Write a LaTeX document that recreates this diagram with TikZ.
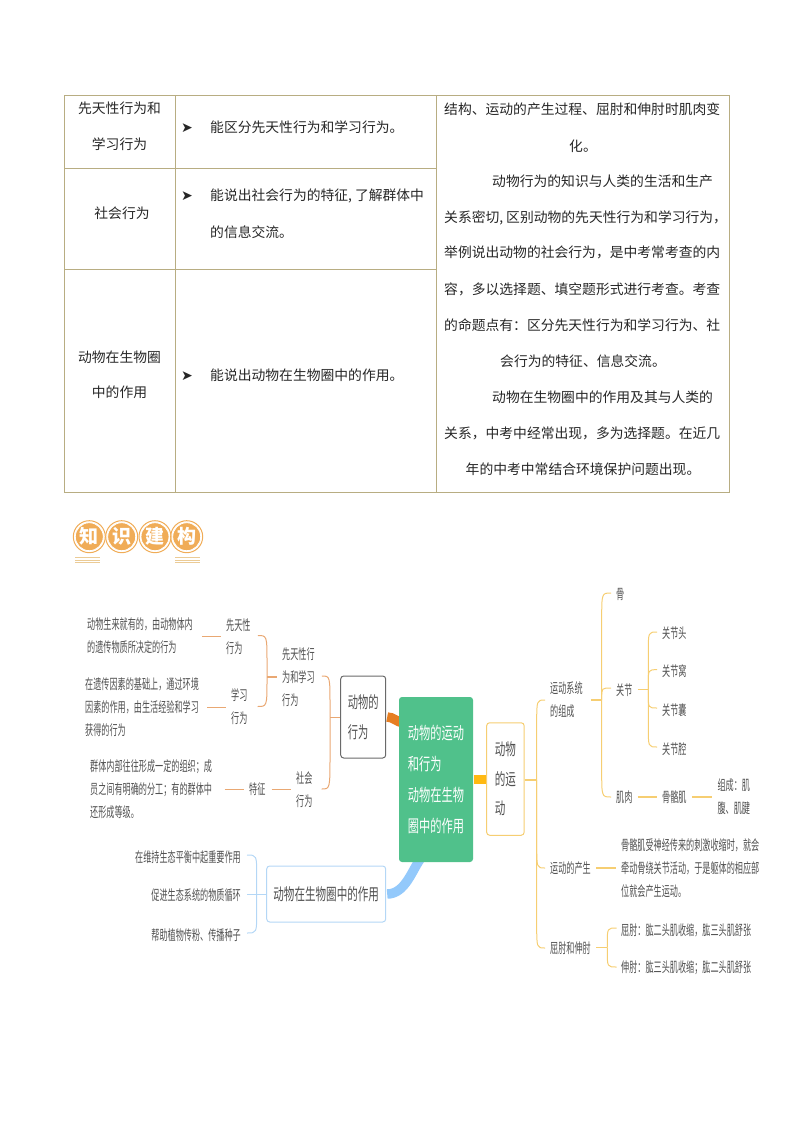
\documentclass[tikz,border=0pt]{standalone}
\usepackage{fontspec}
\usepackage{graphicx}
\setmainfont{Noto Sans CJK SC}
\newfontfamily\symf{DejaVu Sans}
\usetikzlibrary{calc,backgrounds}
\definecolor{tline}{HTML}{B8AD82}
\definecolor{ink}{HTML}{262626}
\definecolor{mind}{HTML}{505050}
\definecolor{cOr}{HTML}{E9A873}
\definecolor{cYe}{HTML}{F6CE72}
\definecolor{cBl}{HTML}{B4D7F6}
\definecolor{gOr}{HTML}{E67E22}
\definecolor{gYe}{HTML}{FFB911}
\definecolor{gBl}{HTML}{93C9FB}
\definecolor{gGr}{HTML}{50C18B}
\definecolor{bann}{HTML}{F0AC57}
\definecolor{bannl}{HTML}{EBCB96}
\newcommand\nar[2][.58]{\scalebox{#1}[1]{#2}}
\newcommand\brk[4]{\draw[#1] (#2) -- ($(#2|-#3)+(0,#4)$) .. controls (#2|-#3) .. (#3);}
\newcommand\zc{\symbol{"FF0C}}
\newcommand\zf{\symbol{"FF1B}}
\newcommand\zm{\symbol{"FF1A}}
\tikzset{
  grid/.style={draw=tline,line width=.9pt},
  cell/.style={inner sep=0,font=\fontsize{13.8}{16}\selectfont,text=ink,text height=11.8pt,text depth=3pt},
  celll/.style={cell,anchor=west},
  tick/.style={inner sep=0,font=\symf\fontsize{14}{16}\selectfont,text=ink},
  disc/.style={circle,fill=bann,draw=white,line width=.8pt,minimum size=28pt,inner sep=0,text=white,font=\fontsize{19}{21}\selectfont\bfseries},
  ring/.style={circle,draw=bann,line width=1pt,minimum size=32pt,inner sep=0},
  under/.style={draw=bannl,line width=.8pt},
  mt/.style={inner sep=0,anchor=west,align=left,text=mind,font=\fontsize{14}{22.9}\selectfont},
  mr/.style={mt,anchor=east,align=right},
  cO/.style={draw=cOr,line width=1pt},
  cY/.style={draw=cYe,line width=1pt},
  cB/.style={draw=cBl,line width=1pt},
  sO/.style={draw=cOr,line width=1.8pt},
  sY/.style={draw=cYe,line width=1.8pt},
  sB/.style={draw=cBl,line width=1.3pt},
  topic/.style={rounded corners=3pt,inner sep=0,align=left,text=mind,line width=1pt},
  fat/.style={line width=9.5pt},
}
\begin{document}
\begin{tikzpicture}[x=1pt,y=-1pt]
\useasboundingbox (0,0) rectangle (794,1123);
% ---------- table ----------
\draw[grid] (64.5,95.5) rectangle (729.5,492);
\draw[grid] (175,95.5) -- (175,492);
\draw[grid] (436,95.5) -- (436,492);
\draw[grid] (64.5,168.5) -- (436,168.5);
\draw[grid] (64.5,269) -- (436,269);
\node[cell] (c1a) at (119.5,109) {先天性行为和};
\node[cell] (c1b) at (119.5,145) {学习行为};
\node[cell] (c2a) at (122,214) {社会行为};
\node[cell] (c3a) at (119.5,358) {动物在生物圈};
\node[cell] (c3b) at (119.5,393) {中的作用};
\node[tick] (k1) at (187,128) {➤};
\node[tick] (k2) at (187,196) {➤};
\node[tick] (k3) at (187,376) {➤};
\node[celll] (d1) at (210,128) {能区分先天性行为和学习行为。};
\node[celll] (d2) at (210,196) {能说出社会行为的特征,\hspace{3pt}了解群体中};
\node[celll] (d2b) at (210,233) {的信息交流。};
\node[celll] (d3) at (210,376) {能说出动物在生物圈中的作用。};
\node[celll] (r1) at (444,110) {结构、运动的产生过程、屈肘和伸肘时肌肉变};
\node[cell] (r2) at (583,147) {化。};
\node[celll] (r3) at (492,182) {动物行为的知识与人类的生活和生产};
\node[celll] (r4) at (444,218) {关系密切,\hspace{3pt}区别动物的先天性行为和学习行为\zc};
\node[celll] (r5) at (444,253) {举例说出动物的社会行为\zc 是中考常考查的内};
\node[celll] (r6) at (444,290) {容\zc 多以选择题、填空题形式进行考查。考查};
\node[celll] (r7) at (444,326) {的命题点有\zm 区分先天性行为和学习行为、社};
\node[cell] (r8) at (583,362) {会行为的特征、信息交流。};
\node[celll] (r9) at (492,398) {动物在生物圈中的作用及其与人类的};
\node[celll] (r10) at (444,434) {关系\zc 中考中经常出现\zc 多为选择题。在近几};
\node[cell] (r11) at (583,470) {年的中考中常结合环境保护问题出现。};
% ---------- banner ----------
\node[ring] (b1o) at (89.3,536.7) {};
\node[ring] (b2o) at (121.7,536.7) {};
\node[ring] (b3o) at (155,536.7) {};
\node[ring] (b4o) at (186.7,536.7) {};
\node[disc] (b1) at (89.3,536.7) {知};
\node[disc] (b2) at (121.7,536.7) {识};
\node[disc] (b3) at (155,536.7) {建};
\node[disc] (b4) at (186.7,536.7) {构};
\draw[under] (75,557.7) -- (99.5,557.7) (75,560) -- (99.5,560) (75,562.3) -- (99.5,562.3);
\draw[under] (175,557.7) -- (199.5,557.7) (175,560) -- (199.5,560) (175,562.3) -- (199.5,562.3);
% ---------- mind map: topics ----------
\node[topic,fill=gGr,text=white,minimum width=74pt,minimum height=165pt,font=\fontsize{17}{31.3}\selectfont] (cen) at (436,779.5) {\nar[.66]{动物的运动}\\\nar[.66]{和行为}\\\nar[.66]{动物在生物}\\\nar[.66]{圈中的作用}};
\node[topic,draw=mind!85,fill=white,minimum width=45pt,minimum height=82pt,font=\fontsize{16.5}{30}\selectfont] (beh) at (363.2,717) {\nar[.62]{动物的}\\\nar[.62]{行为}};
\node[topic,draw=cYe,fill=white,minimum width=37.5pt,minimum height=112.5pt,font=\fontsize{16.5}{29.5}\selectfont] (run) at (505.4,779) {\nar[.64]{动物}\\\nar[.64]{的运}\\\nar[.64]{动}};
\node[topic,draw=cBl,fill=white,minimum width=119pt,minimum height=56pt,font=\fontsize{16.5}{18}\selectfont] (bio) at (326.2,894) {\nar[.64]{动物在生物圈中的作用}};
\coordinate (begO) at (403,723);
\coordinate (begB) at (421,858);
\begin{pgfonlayer}{background}
\draw[gOr,fat] ([xshift=1pt]beh.east) .. controls +(6,0) and +(-6,-1) .. (begO);
\draw[gYe,fat] (cen.east) -- (cen.east -| run.west);
\draw[gBl,fat] ([xshift=1pt]bio.east) .. controls +(18,0) and +(-9,12) .. (begB);
\end{pgfonlayer}
% ---------- left branch ----------
\node[mt] (a1) at (87,636) {\nar{动物生来就有的\zc 由动物体内}\\\nar{的遗传物质所决定的行为}};
\node[mt] (a2) at (226,636.5) {\nar{先天性}\\\nar{行为}};
\node[mt] (a3) at (85,707.5) {\nar{在遗传因素的基础上\zc 通过环境}\\\nar{因素的作用\zc 由生活经验和学习}\\\nar{获得的行为}};
\node[mt] (a4) at (231,706.5) {\nar{学习}\\\nar{行为}};
\node[mt] (a5) at (282,677) {\nar{先天性行}\\\nar{为和学习}\\\nar{行为}};
\node[mt] (a6) at (90,789) {\nar{群体内部往往形成一定的组织\zf 成}\\\nar{员之间有明确的分工\zf 有的群体中}\\\nar{还形成等级。}};
\node[mt] (a7) at (249,789) {\nar{特征}};
\node[mt] (a8) at (296,790) {\nar{社会}\\\nar{行为}};
\draw[cO,shorten <=9pt,shorten >=5pt] (a1.east) -- (a1.east -| a2.west);
\draw[cO,shorten <=8pt,shorten >=5pt] (a3.east) -- (a3.east -| a4.west);
\draw[cO,shorten <=12.5pt,shorten >=5pt] (a6.east) -- (a6.east -| a7.west);
\draw[cO,shorten <=6pt,shorten >=5pt] (a7.east) -- (a7.east -| a8.west);
\coordinate (tA) at (267,677);
\coordinate (eA1) at ($(a2.east)+(7,-1)$);
\coordinate (eA2) at ($(a4.east)+(10,0)$);
\brk{cO}{tA}{eA1}{28}
\brk{cO}{tA}{eA2}{-28}
\draw[sO,shorten >=5pt] (tA) -- (tA -| a5.west);
\coordinate (tB) at (330,717.5);
\coordinate (eB1) at ($(a5.east)+(7,-1)$);
\coordinate (eB2) at ($(a8.east)+(9,-1)$);
\brk{cO}{tB}{eB1}{30}
\brk{cO}{tB}{eB2}{-34}
\draw[sO] (tB) -- (tB -| beh.west);
% ---------- bottom branch ----------
\node[mr] (g1) at (241,857) {\nar{在维持生态平衡中起重要作用}};
\node[mr] (g2) at (241,895.5) {\nar{促进生态系统的物质循环}};
\node[mr] (g3) at (241,935) {\nar{帮助植物传粉、传播种子}};
\coordinate (tC) at (256.7,894.5);
\coordinate (eC1) at ($(g1.east)+(6,-2)$);
\coordinate (eC2) at ($(g3.east)+(6,-2)$);
\brk{cB}{tC}{eC1}{21}
\brk{cB}{tC}{eC2}{-21}
\draw[sB] (tC -| bio.west) -- ($(g2.east |- tC)+(6,0)$);
% ---------- right branch ----------
\node[mt] (h1) at (550,700) {\nar{运动系统}\\\nar{的组成}};
\node[mt] (h2) at (550,868) {\nar{运动的产生}};
\node[mt] (h3) at (550,948) {\nar{屈肘和伸肘}};
\node[mt] (i1) at (616,594) {\nar{骨}};
\node[mt] (i2) at (616,690) {\nar{关节}};
\node[mt] (i3) at (616,797) {\nar{肌肉}};
\node[mt] (j1) at (662,633) {\nar{关节头}};
\node[mt] (j2) at (662,670.7) {\nar{关节窝}};
\node[mt] (j3) at (662,710) {\nar{关节囊}};
\node[mt] (j4) at (662,749) {\nar{关节腔}};
\node[mt] (j5) at (662,797) {\nar{骨骼肌}};
\node[mt] (j6) at (717.3,797) {\nar{组成\zm 肌}\\\nar{腹、肌腱}};
\node[mt] (k4) at (621,868) {\nar{骨骼肌受神经传来的刺激收缩时\zc 就会}\\\nar{牵动骨绕关节活动\zc 于是躯体的相应部}\\\nar{位就会产生运动。}};
\node[mt] (k5) at (621,930) {\nar{屈肘\zm 肱二头肌收缩\zc 肱三头肌舒张}};
\node[mt] (k6) at (621,968) {\nar{伸肘\zm 肱三头肌收缩\zf 肱二头肌舒张}};
\coordinate (tD) at (536.7,780);
\coordinate (eD1) at ($(h1.west)+(-5,0)$);
\coordinate (eD2) at ($(h2.west)+(-5,0)$);
\coordinate (eD3) at ($(h3.west)+(-5,0)$);
\draw[sY] (run.east |- tD) -- (tD);
\brk{cY}{tD}{eD1}{24}
\brk{cY}{tD}{eD2}{-24}
\brk{cY}{tD}{eD3}{-24}
\coordinate (tE) at (601.7,700);
\coordinate (eE1) at ($(i1.west)+(-5,-1)$);
\coordinate (eE2) at ($(i2.west)+(-5,-2)$);
\coordinate (eE3) at ($(i3.west)+(-5,0)$);
\draw[sY,shorten <=8pt] (h1.east |- tE) -- (tE);
\brk{cY}{tE}{eE1}{27}
\brk{cY}{tE}{eE2}{10}
\brk{cY}{tE}{eE3}{-27}
\coordinate (tF) at (648.3,689.5);
\coordinate (eF1) at ($(j1.west)+(-5,-1)$);
\coordinate (eF2) at ($(j2.west)+(-5,-1)$);
\coordinate (eF3) at ($(j3.west)+(-5,-2)$);
\coordinate (eF4) at ($(j4.west)+(-5,-2)$);
\draw[sY,shorten <=5pt] (i2.east |- tF) -- (tF);
\brk{cY}{tF}{eF1}{20}
\brk{cY}{tF}{eF2}{14}
\brk{cY}{tF}{eF3}{-14}
\brk{cY}{tF}{eF4}{-20}
\draw[sY,shorten <=5pt,shorten >=5pt] (i3.east) -- (i3.east -| j5.west);
\draw[sY,shorten <=5pt,shorten >=5pt] (j5.east) -- (j5.east -| j6.west);
\draw[sY,shorten <=5pt,shorten >=5pt] (h2.east) -- (h2.east -| k4.west);
\coordinate (tG) at (607.3,947.5);
\coordinate (eG1) at ($(k5.west)+(-4.5,-2)$);
\coordinate (eG2) at ($(k6.west)+(-4.5,-1)$);
\draw[sY,shorten <=5pt] (h3.east |- tG) -- (tG);
\brk{cY}{tG}{eG1}{16}
\brk{cY}{tG}{eG2}{-16}
\end{tikzpicture}
\end{document}
